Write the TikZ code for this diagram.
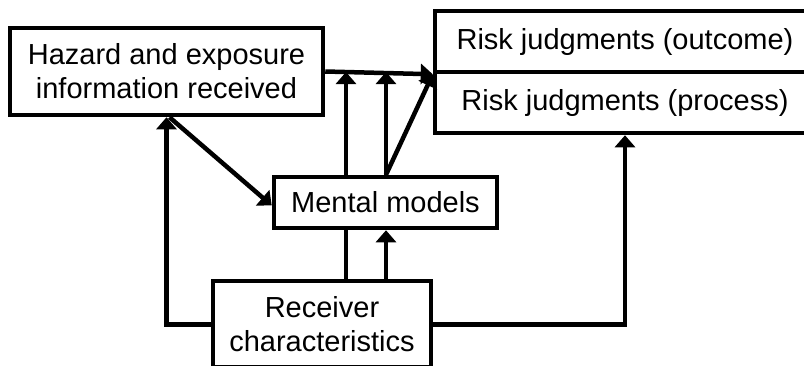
\documentclass[tikz,border=0pt]{standalone}
\usepackage{fontspec}
\setmainfont{Liberation Sans}
\usetikzlibrary{arrows.meta}
\begin{document}
\begin{tikzpicture}[x=1pt,y=-1pt,
  box/.style={draw,line width=4.5pt,fill=white,inner sep=0pt,align=center,
    font=\fontsize{29pt}{34pt}\selectfont},
  link/.style={line width=4.5pt,-{Triangle[length=12pt,width=20pt]}},
  plain/.style={line width=4.5pt}]
\useasboundingbox (0,0) rectangle (804,365);
\clip (0,0) rectangle (804,365);

% boxes
\node[box,minimum width=313pt,minimum height=87pt] (hazard) at (166.5,71.5)
  {Hazard and exposure\\information received};
\node[box,minimum width=380pt,minimum height=61pt] (riskout) at (625,41.5)
  {Risk judgments (outcome)};
\node[box,minimum width=380pt,minimum height=61pt] (riskproc) at (625,102.5)
  {\raisebox{-4pt}{Risk judgments (process)}};
\node[box,minimum width=223pt,minimum height=51pt] (mental) at (385.5,202.5)
  {Mental models};
\node[box,minimum width=218pt,minimum height=86.5pt] (receiver) at (322,324.25)
  {Receiver\\characteristics};

% junctions on the information line
\coordinate (j1) at (346,72);
\coordinate (j2) at (386,72);

% connectors
\draw[link] (hazard.east) -- (riskout.south west);
\draw[plain] (receiver.north -| j1) -- (mental.south -| j1);
\draw[link] (mental.north -| j1) -- (j1);
\draw[link] (receiver.north -| j2) -- (mental.south -| j2);
\draw[link] (mental.north -| j2) -- (j2);
\draw[link] (mental.north -| j2) -- (riskout.south west);
\draw[link] ([xshift=3pt]hazard.south) -- ([yshift=-3pt]mental.west);
\draw[link] (receiver.west) -| (hazard.south);
\draw[link] (receiver.east) -| (riskproc.south);
\end{tikzpicture}
\end{document}
